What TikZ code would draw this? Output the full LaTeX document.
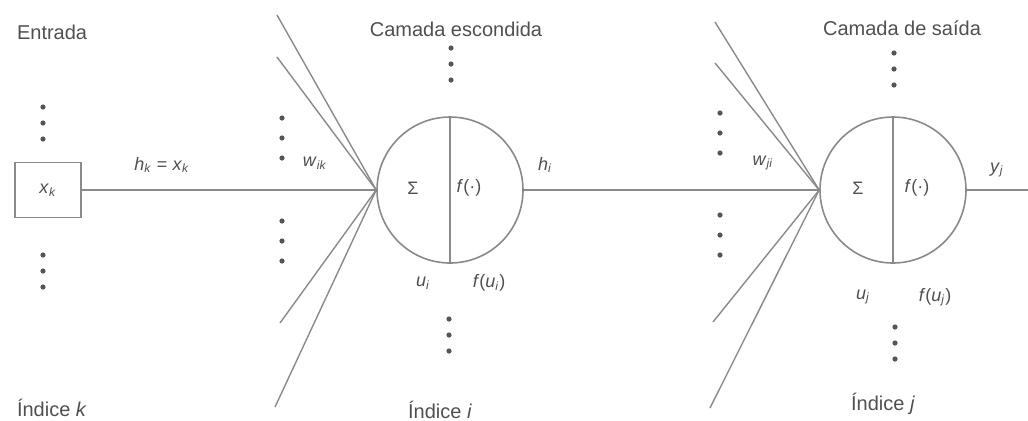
\documentclass[tikz,border=0pt]{standalone}
\usepackage{fontspec}
\setmainfont{Liberation Sans}
\usetikzlibrary{positioning}
\definecolor{linegray}{HTML}{8A8A8A}
\definecolor{textgray}{HTML}{505050}
\definecolor{dotgray}{HTML}{555555}
\newcommand{\sbx}[2]{\textit{#1}\textsubscript{\textit{#2}}}
\tikzset{
  neuron/.style={circle, draw=linegray, line width=0.8pt, minimum size=73pt, inner sep=0pt},
  inbox/.style={rectangle, draw=linegray, line width=0.8pt, minimum width=33pt, minimum height=27.5pt, inner sep=0pt, text=textgray, font=\small},
  wire/.style={draw=linegray, line width=0.7pt},
  lbl/.style={text=textgray, font=\small},
  title/.style={text=textgray, font=\normalsize}
}

\begin{document}
\begin{tikzpicture}[x=0.5pt, y=-0.5pt]
      \useasboundingbox (0,0) rectangle (1028,420);

      % titulos
      \node[title, anchor=west] (tin) at (10,32) {Entrada};
      \node[title] (thid) at (456,29) {Camada escondida};
      \node[title] (tout) at (902,28) {Camada de saída};
      \node[title, anchor=west] (ik) at (10,408) {Índice \textit{k}};
      \node[title] (ii) at (440,410) {Índice \textit{i}};
      \node[title] (ij) at (883,404) {Índice \textit{j}};

      % neuronios
      \node[inbox] (xk) at (48,190) {\sbx{x}{k}};
      \node[neuron] (hid) at (450,190) {};
      \node[neuron] (out) at (893,190) {};
      \draw[wire] (hid.north) -- (hid.south);
      \draw[wire] (out.north) -- (out.south);
      \node[lbl] (sumi) at (413,188) {Σ};
      \node[lbl] (fi) at (469,188) {\textit{f}(·)};
      \node[lbl] (sumj) at (858,188) {Σ};
      \node[lbl] (fj) at (917,188) {\textit{f}(·)};

      % ligacoes da camada escondida
      \coordinate (a1) at (277,15);
      \coordinate (a2) at (277,57);
      \coordinate (a3) at (280,323);
      \coordinate (a4) at (275,407);
      \draw[wire] (xk.east) -- (hid.west);
      \draw[wire] (a1) -- (hid.west);
      \draw[wire] (a2) -- (hid.west);
      \draw[wire] (a3) -- (hid.west);
      \draw[wire] (a4) -- (hid.west);

      % ligacoes da camada de saida
      \coordinate (b1) at (715,22);
      \coordinate (b2) at (715,63);
      \coordinate (b3) at (713,322);
      \coordinate (b4) at (710,408);
      \coordinate (yend) at (1028,190);
      \draw[wire] (hid.east) -- (out.west);
      \draw[wire] (b1) -- (out.west);
      \draw[wire] (b2) -- (out.west);
      \draw[wire] (b3) -- (out.west);
      \draw[wire] (b4) -- (out.west);
      \draw[wire] (out.east) -- (yend);

      % rotulos
      \node[lbl] (hk) at (162,165) {\sbx{h}{k} = \sbx{x}{k}};
      \node[lbl] (wik) at (315,163) {\sbx{w}{ik}};
      \node[lbl] (hi) at (545,165) {\sbx{h}{i}};
      \node[lbl] (ui) at (423,283) {\sbx{u}{i}};
      \node[lbl] (fui) at (489,283) {\textit{f}(\sbx{u}{i})};
      \node[lbl] (wji) at (763,163) {\sbx{w}{ji}};
      \node[lbl] (yj) at (997,170) {\sbx{y}{j}};
      \node[lbl] (uj) at (863,297) {\sbx{u}{j}};
      \node[lbl] (fuj) at (935,297) {\textit{f}(\sbx{u}{j})};

      % reticencias verticais
      \foreach \x/\y/\d in {43/107/16, 43/255/16, 282/118/20, 282/221/20, 451/48/16, 449/319/16,
                           720/113/20, 720/215/20, 894/53/16, 895/327/16}
        \foreach \k in {0,1,2}
          \fill[dotgray] (\x,\y+\k*\d) circle (2.6);
\end{tikzpicture}
\end{document}
